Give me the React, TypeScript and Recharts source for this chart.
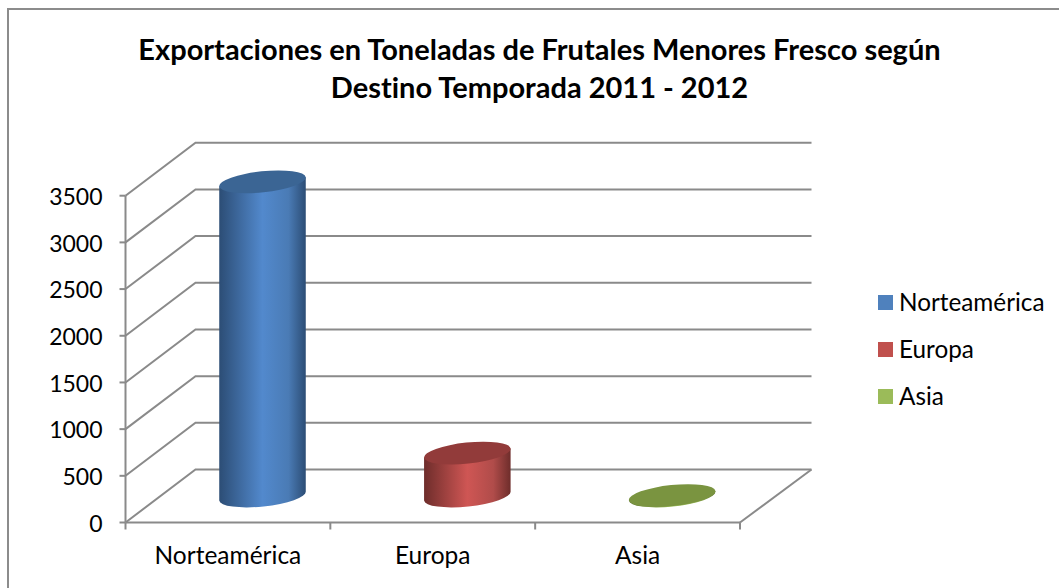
import { Bar, CartesianGrid, ComposedChart, Legend, XAxis, YAxis } from "recharts"

const categories = ["Norteamérica", "Europa", "Asia"]
const exportValues = [3365, 460, 5]
const yTicks = [0, 500, 1000, 1500, 2000, 2500, 3000, 3500]
const titleLines = ["Exportaciones en Toneladas de Frutales Menores Fresco según", "Destino Temporada 2011 - 2012"]

const legendColors = ["#4f81bd", "#c0504d", "#9bbb59"]
const topColors = ["#3b6594", "#923b3a", "#7a9440"]
const sideColors = [
  ["#2c4d75", "#5289cd", "#4a7bb5"],
  ["#6e2d2b", "#cf5654", "#b04c4a"],
  ["#5f7530", "#a5c761", "#94b356"],
]

const data = categories.map((name, i) => ({ name, value: exportValues[i] }))

const FONT = "Lato, sans-serif"
const GRID = "#8a8a8a"
// how far the back wall sits from the front of the fake 3D box
const WALL_X = 70
const WALL_Y = 53
const TILT = 6
const RX = 43.5
const RY = 10.5

function WallLine(props: any) {
  const { x1, x2, y1 } = props
  const isFloor = Math.abs(y1 - 522.5) < 1
  return (
    <g fill="none" stroke={GRID} strokeWidth={2}>
      <path d={`M${x1} ${y1}L${x1 + WALL_X} ${y1 - WALL_Y}L${x2 + WALL_X + 1.5} ${y1 - WALL_Y}`} />
      {isFloor && <path d={`M${x2} ${y1}L${x2 + WALL_X + 1.5} ${y1 - WALL_Y}`} />}
    </g>
  )
}

function Cylinder(props: any) {
  const { x, y, width, height, index } = props
  const cx = x + width / 2 + WALL_X / 2
  const top = y - WALL_Y / 2
  const bottom = y + height - WALL_Y / 2
  const dy = RX * Math.sin((TILT * Math.PI) / 180)
  const dx = RX * Math.cos((TILT * Math.PI) / 180)
  const side = `M${cx - dx} ${top + dy}L${cx - dx} ${bottom + dy}A${RX} ${RY} ${-TILT} 0 0 ${cx + dx} ${bottom - dy}L${cx + dx} ${top - dy}Z`
  return (
    <g>
      <path d={side} fill={`url(#cyl${index})`} />
      <ellipse cx={cx} cy={top} rx={RX} ry={RY} fill={topColors[index]} transform={`rotate(${-TILT} ${cx} ${top})`} />
    </g>
  )
}

// ticks sit between the categories, the label stays in the middle
function CategoryTick(props: any) {
  const { x, y, payload, index, width } = props
  const step = width / categories.length
  return (
    <g>
      <line x1={x - step / 2} x2={x - step / 2} y1={y - 8} y2={y - 1} stroke={GRID} strokeWidth={2} />
      {index === categories.length - 1 && (
        <line x1={x + step / 2} x2={x + step / 2} y1={y - 8} y2={y - 1} stroke={GRID} strokeWidth={2} />
      )}
      <text x={x} y={y + 33} textAnchor="middle" fill="#000" fontFamily={FONT} fontSize={24.5}>
        {payload.value}
      </text>
    </g>
  )
}

function LegendList() {
  return (
    <div>
      {categories.map((name, i) => (
        <div key={name} style={{ display: "flex", alignItems: "center", height: 47, fontFamily: FONT, fontSize: 24.3, color: "#000" }}>
          <span style={{ width: 15, height: 15, background: legendColors[i], marginRight: 6, marginTop: 2 }} />
          {name}
        </div>
      ))}
    </div>
  )
}

export default function App() {
  return (
    <div style={{ position: "absolute", left: 0, top: 0, width: 1059, height: 588, overflow: "hidden", background: "#fff" }}>
      <div style={{ position: "absolute", left: 7, top: 8, width: 1100, height: 700, borderLeft: "2px solid #8c8c8c", borderTop: "2px solid #8c8c8c" }} />
      <div style={{ position: "absolute", left: 0, width: 1079, top: 30, textAlign: "center", fontFamily: FONT, fontWeight: 700, fontSize: 29, lineHeight: "37.5px", color: "#000", fontVariantLigatures: "none" }}>
        {titleLines.map((line) => (
          <div key={line}>{line}</div>
        ))}
      </div>
      <div style={{ position: "absolute", left: 0, top: 0 }}>
        <ComposedChart width={1059} height={588} data={data} margin={{ top: 195.7, right: 319, bottom: 35.5, left: 0 }}>
          <defs>
            {sideColors.map(([edge, mid, shoulder], i) => (
              <linearGradient key={i} id={`cyl${i}`} x1="0" y1="0" x2="1" y2="0">
                <stop offset="0%" stopColor={edge} />
                <stop offset="50%" stopColor={mid} />
                <stop offset="80%" stopColor={shoulder} />
                <stop offset="100%" stopColor={edge} />
              </linearGradient>
            ))}
          </defs>
          <CartesianGrid vertical={false} horizontal={(p: any) => <WallLine key={p.key ?? p.index} {...p} />} />
          <XAxis
            dataKey="name"
            height={30}
            tickLine={false}
            axisLine={{ stroke: GRID, strokeWidth: 2 }}
            tick={<CategoryTick />}
            interval={0}
          />
          <YAxis
            width={125.5}
            domain={[0, 3500]}
            ticks={yTicks}
            tickSize={6}
            tickMargin={17}
            interval={0}
            axisLine={{ stroke: GRID, strokeWidth: 2 }}
            tickLine={{ stroke: GRID, strokeWidth: 2 }}
            tick={{ fill: "#000", fontFamily: FONT, fontSize: 23, dy: 1 }}
          />
          <Bar dataKey="value" barSize={86} shape={Cylinder} isAnimationActive={false} />
          <Legend
            layout="vertical"
            align="center"
            verticalAlign="middle"
            content={<LegendList />}
            wrapperStyle={{ left: 878, top: 278, width: 180 }}
          />
        </ComposedChart>
      </div>
    </div>
  )
}
